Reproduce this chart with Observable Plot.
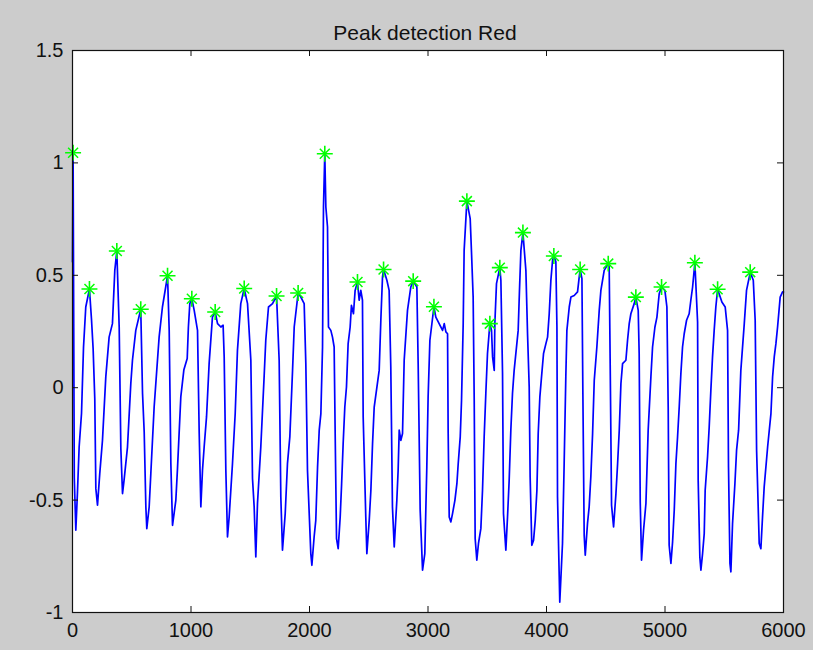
<!DOCTYPE html>
<html>
<head>
<meta charset="utf-8">
<script src="https://cdn.jsdelivr.net/npm/d3@7"></script>
<script src="https://cdn.jsdelivr.net/npm/@observablehq/plot@0.6"></script>
<style>
  html, body { margin: 0; padding: 0; background: #cccccc; }
</style>
</head>
<body>
<div id="chart"></div>
<script>
const titleText = "Peak detection Red";

const sigX = [
  0, 5, 15, 28,
  42, 56, 76, 93, 112, 143,
  160, 174, 188, 197, 211,
  230, 253, 281, 309, 337, 357, 374,
  394, 408, 422,
  435, 464, 492, 506, 534, 576,
  591, 605, 619, 627,
  647, 661, 689, 731, 759, 802,
  816, 830, 844,
  872, 886, 914, 940, 968, 978, 990, 1007,
  1027, 1055, 1069, 1083,
  1097, 1111, 1131, 1153, 1181, 1204,
  1224, 1252, 1271, 1280, 1294, 1308,
  1322, 1350, 1373, 1392, 1420, 1449,
  1477, 1505, 1519, 1533, 1547,
  1561, 1589, 1617, 1631, 1654, 1688, 1722,
  1744, 1758, 1772,
  1795, 1814, 1834, 1857, 1871, 1904,
  1927, 1955, 1969, 1983, 2011, 2020,
  2039, 2053, 2068, 2082, 2096, 2110, 2118, 2129,
  2138, 2152, 2160, 2180, 2194, 2208, 2217, 2228, 2242,
  2259, 2270, 2284, 2298, 2312, 2326, 2343, 2354, 2371, 2385, 2405,
  2419, 2433, 2447, 2453, 2475, 2484,
  2504, 2518, 2532, 2546, 2588, 2602, 2616, 2625,
  2653, 2672, 2686, 2700, 2715,
  2737, 2748, 2757, 2771, 2785, 2799, 2827, 2855, 2875,
  2906, 2917, 2934, 2954,
  2973, 2990, 3001, 3016, 3050,
  3066, 3094, 3123, 3137, 3151, 3165, 3170, 3179, 3193,
  3207, 3227, 3244, 3255, 3272, 3283, 3297, 3305, 3328,
  3356, 3367, 3381, 3390, 3398, 3412,
  3426, 3446, 3460, 3474, 3488, 3502, 3522,
  3536, 3545, 3559, 3564, 3578, 3606,
  3615, 3629, 3637, 3657,
  3671, 3685, 3699, 3713, 3727, 3761, 3772, 3784, 3801,
  3826, 3840, 3854, 3862, 3876,
  3891, 3905, 3919, 3930, 3944, 3958, 3975, 3995, 4009, 4023, 4037, 4051, 4062,
  4079, 4088, 4093, 4112,
  4135, 4149, 4163, 4172, 4192, 4206, 4234, 4262, 4276, 4284,
  4299, 4307, 4318, 4327,
  4346, 4360, 4374, 4389, 4403, 4425, 4445, 4459, 4487, 4521,
  4529, 4538, 4549, 4566,
  4586, 4600, 4614, 4628, 4642, 4670, 4684, 4698, 4712, 4740, 4754,
  4774, 4782, 4791, 4802,
  4819, 4839, 4858, 4881, 4895, 4915, 4932, 4951, 4971,
  4999, 5016, 5027, 5035, 5050,
  5064, 5078, 5092, 5106, 5120, 5134, 5148, 5162, 5182, 5204, 5218, 5233, 5252,
  5275, 5280, 5294, 5303,
  5317, 5331, 5339, 5359, 5373, 5387, 5401, 5415, 5429, 5444,
  5480, 5508, 5528, 5536, 5548, 5556,
  5570, 5590, 5604, 5621, 5640, 5669, 5688, 5711, 5719,
  5745, 5761, 5773, 5795, 5809,
  5823, 5837, 5866, 5894, 5908, 5922, 5936, 5950, 5972, 5992, 6000
];

const sigY = [
  0.56, 1.045, -0.40, -0.634,
  -0.464, -0.264, -0.115, 0.181, 0.359, 0.439,
  0.307, 0.174, -0.049, -0.449, -0.523,
  -0.382, -0.234, 0.048, 0.225, 0.285, 0.522, 0.608,
  0.270, -0.271, -0.471,
  -0.412, -0.264, 0.018, 0.122, 0.255, 0.349,
  -0.026, -0.197, -0.530, -0.627,
  -0.530, -0.382, -0.086, 0.225, 0.359, 0.498,
  0.255, -0.338, -0.612,
  -0.501, -0.360, -0.041, 0.08, 0.13, 0.27, 0.374, 0.396,
  0.344, 0.255, -0.197, -0.530,
  -0.367, -0.264, -0.130, 0.107, 0.314, 0.337,
  0.285, 0.27, 0.278, 0.137, -0.367, -0.664,
  -0.575, -0.338, -0.115, 0.166, 0.374, 0.441,
  0.374, 0.122, -0.404, -0.530, -0.753,
  -0.515, -0.264, 0.048, 0.211, 0.359, 0.374, 0.408,
  0.122, -0.486, -0.723,
  -0.560, -0.338, -0.219, 0.077, 0.27, 0.421,
  0.403, 0.374, 0.107, -0.367, -0.738, -0.790,
  -0.664, -0.590, -0.353, -0.189, -0.115, 0.181, 0.804, 1.041,
  0.804, 0.715, 0.27, 0.255, 0.225, 0.181, -0.219, -0.671, -0.716,
  -0.575, -0.441, -0.249, -0.086, 0.003, 0.196, 0.27, 0.366, 0.329, 0.433, 0.470,
  0.389, 0.433, 0.389, -0.130, -0.575, -0.738,
  -0.590, -0.456, -0.249, -0.086, 0.077, 0.30, 0.492, 0.526,
  0.478, 0.433, 0.092, -0.530, -0.708,
  -0.501, -0.367, -0.189, -0.234, -0.204, 0.122, 0.344, 0.448, 0.474,
  0.448, 0.107, -0.545, -0.812,
  -0.738, -0.353, -0.041, 0.211, 0.36,
  0.314, 0.285, 0.255, 0.285, 0.248, 0.240, -0.189, -0.575, -0.597,
  -0.560, -0.501, -0.426, -0.337, -0.219, -0.056, 0.285, 0.611, 0.830,
  0.752, 0.604, 0.403, -0.056, -0.671, -0.767,
  -0.693, -0.627, -0.456, -0.219, -0.026, 0.152, 0.285,
  0.255, 0.137, 0.077, 0.285, 0.463, 0.534,
  0.478, 0.063, -0.560, -0.723,
  -0.575, -0.412, -0.189, -0.026, 0.077, 0.255, 0.433, 0.611, 0.690,
  0.522, 0.240, 0.003, -0.397, -0.701,
  -0.678, -0.590, -0.456, -0.204, -0.041, 0.048, 0.152, 0.196, 0.225, 0.329, 0.478, 0.566, 0.586,
  0.560, 0.270, -0.486, -0.954,
  -0.693, -0.338, 0.048, 0.255, 0.359, 0.403, 0.41, 0.426, 0.492, 0.526,
  0.485, -0.026, -0.656, -0.745,
  -0.604, -0.530, -0.397, -0.204, 0.033, 0.181, 0.344, 0.433, 0.522, 0.552,
  0.537, 0.077, -0.523, -0.619,
  -0.471, -0.338, -0.189, 0.018, 0.107, 0.122, 0.211, 0.285, 0.329, 0.374, 0.403,
  0.344, 0.152, -0.508, -0.767,
  -0.634, -0.515, -0.189, 0.048, 0.181, 0.270, 0.314, 0.418, 0.448,
  0.433, 0.359, -0.086, -0.701, -0.782,
  -0.686, -0.545, -0.338, -0.219, -0.086, 0.063, 0.181, 0.240, 0.300, 0.329, 0.389, 0.448, 0.556,
  0.292, -0.412, -0.753, -0.812,
  -0.738, -0.649, -0.456, -0.308, -0.175, -0.012, 0.137, 0.255, 0.359, 0.438,
  0.381, 0.359, 0.255, -0.353, -0.782, -0.819,
  -0.604, -0.426, -0.278, -0.189, 0.077, 0.285, 0.433, 0.492, 0.514,
  0.478, 0.300, -0.278, -0.693, -0.716,
  -0.575, -0.441, -0.264, -0.115, 0.048, 0.137, 0.196, 0.270, 0.403, 0.426, 0.426
];

const peakX = [5, 143, 374, 576, 802, 1007, 1204, 1449, 1722, 1904, 2129, 2405, 2625, 2875,
  3050, 3328, 3522, 3606, 3801, 4062, 4284, 4521, 4754, 4971, 5252, 5444, 5719];
const peakY = [1.045, 0.439, 0.608, 0.349, 0.498, 0.396, 0.337, 0.441, 0.408, 0.421, 1.041, 0.470, 0.526, 0.474,
  0.36, 0.830, 0.285, 0.534, 0.690, 0.586, 0.526, 0.552, 0.403, 0.448, 0.556, 0.438, 0.514];

const xTicks = [0, 1000, 2000, 3000, 4000, 5000, 6000];
const yTicks = [-1, -0.5, 0, 0.5, 1, 1.5];

const signal = sigX.map((x, i) => ({x, y: sigY[i]}));
const peaks = peakX.map((x, i) => ({x, y: peakY[i]}));

const W = 813, H = 650;
const mL = 72, mR = 30, mT = 50, mB = 38;
const innerW = W - mL - mR, innerH = H - mT - mB;
const tickLen = 6;

const chart = Plot.plot({
  width: W,
  height: H,
  marginLeft: mL,
  marginRight: mR,
  marginTop: mT,
  marginBottom: mB,
  style: {
    background: "#cccccc",
    fontFamily: "'Liberation Sans', Arial, Helvetica, sans-serif",
    fontSize: "20px",
    color: "#111"
  },
  x: {domain: [0, 6000], label: null},
  y: {domain: [-1, 1.5], label: null},
  marks: [
    Plot.frame({fill: "white", stroke: null}),
    Plot.line(signal, {x: "x", y: "y", stroke: "#0000ff", strokeWidth: 1.7}),
    Plot.dot(peaks, {x: "x", y: "y", symbol: "plus", stroke: "#00ff00", r: 5.2, strokeWidth: 1.6}),
    Plot.dot(peaks, {x: "x", y: "y", symbol: "times", stroke: "#00ff00", r: 4.6, strokeWidth: 1.5}),
    Plot.tickX(xTicks, {x: d => d, insetTop: innerH - tickLen, stroke: "#111"}),
    Plot.tickX(xTicks, {x: d => d, insetBottom: innerH - tickLen, stroke: "#111"}),
    Plot.tickY(yTicks, {y: d => d, insetRight: innerW - tickLen, stroke: "#111"}),
    Plot.tickY(yTicks, {y: d => d, insetLeft: innerW - tickLen, stroke: "#111"}),
    Plot.axisX({ticks: xTicks, tickSize: 0, tickPadding: 10, tickFormat: d => String(d), fontSize: 20}),
    Plot.axisY({ticks: yTicks, tickSize: 0, tickPadding: 9, tickFormat: d => String(d), fontSize: 20}),
    Plot.frame({stroke: "#111", strokeWidth: 1.2}),
    Plot.text([titleText], {frameAnchor: "top", dy: -25, dx: -3, text: d => d, fontSize: 21, fill: "#111"})
  ]
});

document.getElementById("chart").appendChild(chart);
</script>
</body>
</html>
